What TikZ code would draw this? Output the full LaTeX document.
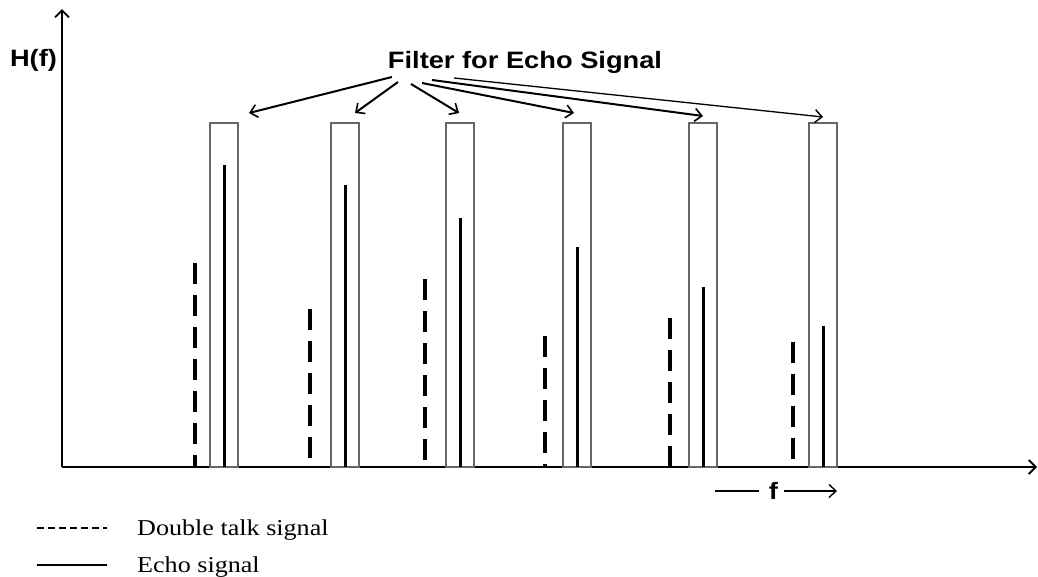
\documentclass[tikz,border=0pt]{standalone}
\usepackage{fontspec}
\setmainfont{Liberation Serif}
\setsansfont{Liberation Sans}
\usetikzlibrary{arrows.meta}
\tikzset{
  axis/.style={line width=2.4pt,-{Straight Barb[length=7pt,width=14pt,line width=1.8pt]}},
  filterbox/.style={draw=black!60,line width=1.2pt},
  echoline/.style={line width=3pt},
  dtline/.style={line width=3.2pt,dash pattern=on 21pt off 11pt},
  pointer/.style={line width=2pt,-{Straight Barb[length=7pt,width=13pt,line width=1.6pt]}},
  thinpointer/.style={line width=1.3pt,-{Straight Barb[length=7pt,width=13pt,line width=1.4pt]}},
  lbl/.style={inner sep=0pt,anchor=base,font=\sffamily\bfseries\fontsize{23.7}{28}\selectfont},
  leg/.style={inner sep=0pt,anchor=base west,font=\rmfamily\fontsize{22.7}{27}\selectfont},
}
\begin{document}
\begin{tikzpicture}[x=1pt,y=-1pt]
\useasboundingbox (0,0) rectangle (1038,576);
% axes
\coordinate (o) at (62,467);
\coordinate (ytop) at (62,9);
\coordinate (xend) at (1037,467);
\draw[axis] (o) -- (ytop);
\draw[axis] (o) -- (xend);
\node[lbl] (hf) at (33.5,66) {\scalebox{1.15}[1]{H(f)}};
% filter boxes
\foreach \i/\xa in {1/210,2/331,3/446,4/563,5/689,6/809}{
  \draw[filterbox] (\xa,123) rectangle ({\xa+28},467);
}
% echo lines
\foreach \xe/\ye in {224/165,345/185,460/218,577/247,703/287,823/326}{
  \draw[echoline] (\xe,467) -- (\xe,\ye);
}
% double talk lines
\foreach \xd/\yd in {195/263,310/309,425/279,545/336,670/318,793/342}{
  \draw[dtline] (\xd,\yd) -- (\xd,466);
}
% title and pointers
\node[lbl] (title) at (525,68) {\scalebox{1.15}[1]{Filter for Echo Signal}};
\coordinate (s1) at (392,77);  \coordinate (t1) at (249,113);
\coordinate (s2) at (398,82);  \coordinate (t2) at (355,113);
\coordinate (s3) at (411,84);  \coordinate (t3) at (459,113);
\coordinate (s4) at (422,83);  \coordinate (t4) at (574,113);
\coordinate (s5) at (432,80);  \coordinate (t5) at (703,116);
\coordinate (s6) at (454,78);  \coordinate (t6) at (823,117);
\draw[pointer] (s1) -- (t1);
\draw[pointer] (s2) -- (t2);
\draw[pointer] (s3) -- (t3);
\draw[pointer] (s4) -- (t4);
\draw[pointer] (s5) -- (t5);
\draw[thinpointer] (s6) -- (t6);
% f label
\node[lbl] (f) at (773.5,499) {\scalebox{1.15}[1]{f}};
\coordinate (fl1) at (715,491); \coordinate (fl2) at (759,491);
\coordinate (fr1) at (784,491); \coordinate (fr2) at (837,491);
\draw[line width=2.4pt] (fl1) -- (fl2);
\draw[line width=1.3pt,-{Straight Barb[length=7pt,width=13pt,line width=1.4pt]}] (fr1) -- (fr2);
% legend
\coordinate (ld1) at (37,528); \coordinate (ld2) at (107,528);
\coordinate (le1) at (37,565); \coordinate (le2) at (107,565);
\draw[line width=1.2pt,dash pattern=on 7pt off 4pt] (ld1) -- (ld2);
\draw[line width=2pt] (le1) -- (le2);
\node[leg] (legdt) at (137,535.5) {\scalebox{1.15}[1]{Double talk signal}};
\node[leg] (legecho) at (137,572) {\scalebox{1.15}[1]{Echo signal}};
\end{tikzpicture}
\end{document}
